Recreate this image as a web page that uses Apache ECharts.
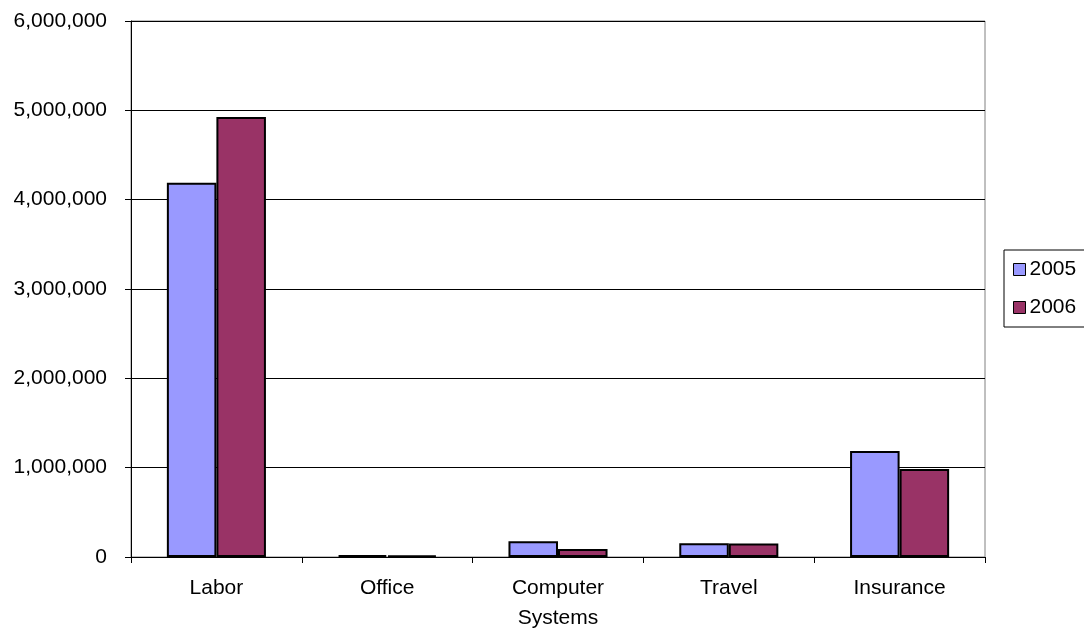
<!DOCTYPE html>
<html>
<head>
<meta charset="utf-8">
<script src="https://cdn.jsdelivr.net/npm/echarts@6/dist/echarts.min.js"></script>
<style>
  html, body { margin: 0; padding: 0; background: #fff; }
  #chart { width: 1084px; height: 630px; }
</style>
</head>
<body>
<div id="chart"></div>
<script>
// Expense categories and yearly totals
const categories = ['Labor', 'Office', 'Computer\nSystems', 'Travel', 'Insurance'];
const values2005 = [4190000, 20000, 176000, 153000, 1187000];
const values2006 = [4925000, 18000, 90000, 152000, 985000];
const seriesNames = ['2005', '2006'];

const font = 'Liberation Sans, Arial, sans-serif';
const chart = echarts.init(document.getElementById('chart'));

chart.setOption({
  animation: false,
  backgroundColor: '#fff',
  grid: {
    left: 131, right: 99, top: 21, bottom: 73,
    containLabel: false, outerBoundsMode: 'none',
    show: true, borderColor: '#808080', borderWidth: 1
  },
  legend: {
    orient: 'vertical',
    left: 1004, top: 250,
    padding: [9, 12, 9, 9],
    itemGap: 17,
    itemWidth: 12, itemHeight: 12,
    borderColor: '#000', borderWidth: 1,
    icon: 'rect',
    textStyle: { fontFamily: font, fontSize: 21, color: '#000', padding: [0, 0, 0, -1] },
    data: seriesNames.map(n => ({ name: n, itemStyle: { borderColor: '#000', borderWidth: 1 } }))
  },
  xAxis: {
    type: 'category',
    data: categories,
    axisLine: { lineStyle: { color: '#000', width: 1 } },
    axisTick: { show: true, inside: false, length: 6, lineStyle: { color: '#000' } },
    axisLabel: { fontFamily: font, fontSize: 21, color: '#000', margin: 16, lineHeight: 30 }
  },
  yAxis: {
    type: 'value',
    min: 0, max: 6000000, interval: 1000000,
    axisLine: { show: true, lineStyle: { color: '#000', width: 1 } },
    axisTick: { show: true, inside: false, length: 6, lineStyle: { color: '#000' } },
    splitLine: { lineStyle: { color: '#000', width: 1 } },
    axisLabel: {
      fontFamily: font, fontSize: 21, color: '#000', margin: 24,
      formatter: v => v.toLocaleString('en-US')
    }
  },
  series: [
    {
      name: seriesNames[0], type: 'bar', data: values2005,
      barGap: '0%', barCategoryGap: '42%',
      itemStyle: { color: '#9999FF', borderColor: '#000', borderWidth: 2 }
    },
    {
      name: seriesNames[1], type: 'bar', data: values2006,
      itemStyle: { color: '#993366', borderColor: '#000', borderWidth: 2 }
    }
  ]
});
</script>
</body>
</html>
